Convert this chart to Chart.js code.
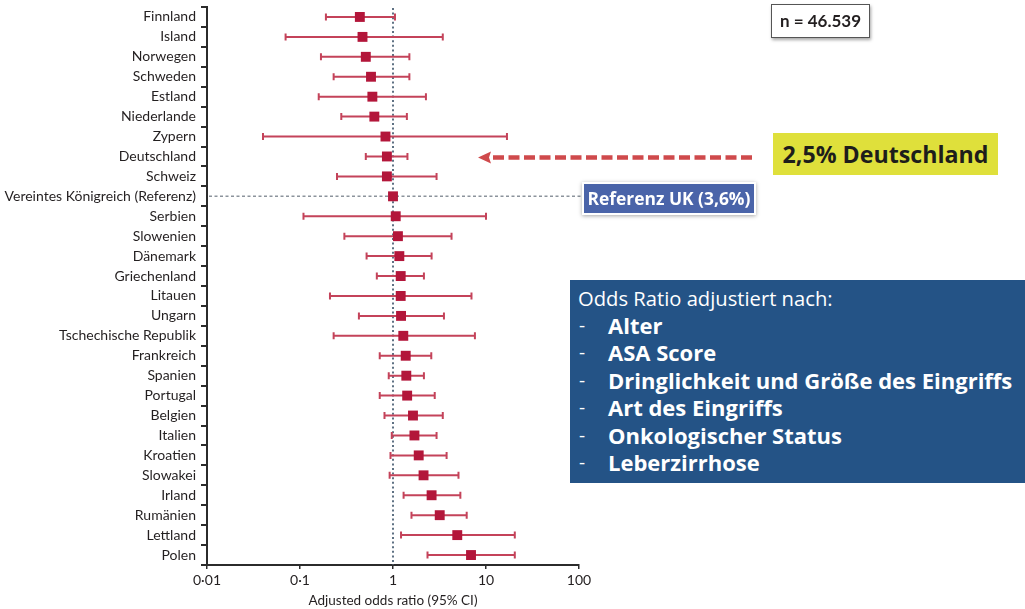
<!DOCTYPE html>
<html lang="de">
<head>
<meta charset="utf-8">
<title>Odds Ratio nach Land</title>
<script src="https://cdn.jsdelivr.net/npm/chart.js@4.4.1/dist/chart.umd.min.js"></script>
<style>
  html, body { margin: 0; padding: 0; background: #ffffff; }
  #wrap { position: relative; width: 1025px; height: 609px; overflow: hidden; }
  #chart { position: absolute; left: 0; top: 0; }
  .note { position: absolute; box-sizing: border-box; font-family: "Open Sans", Lato, sans-serif; white-space: nowrap; }
  #nBox { left: 771px; top: 4px; width: 99px; height: 34px; background: #fff; border: 1.5px solid #555;
          box-shadow: 1px 2px 3px rgba(0,0,0,0.35); font-family: Lato, sans-serif; font-weight: 700;
          font-size: 17px; color: #231f20; line-height: 31px; text-align: center; }
  #deBox { left: 773px; top: 133px; width: 225px; height: 42px; background: #dfe03b; font-weight: 700;
           font-size: 23.2px; color: #1d1d1b; line-height: 42px; text-align: center; }
  #ukBox { left: 582px; top: 182px; width: 174px; height: 33px; background: #4a64a9; border: 2px solid #fff;
           box-shadow: 0 1px 4px rgba(0,0,0,0.35); font-weight: 700; font-size: 17.4px; color: #fff;
           line-height: 29px; text-align: center; }
  #adjBox { left: 570px; top: 280px; width: 455px; height: 203px; background: #245386; color: #fff;
            padding: 5px 0 0 8px; }
  #adjBox .head { font-size: 20.2px; font-weight: 400; line-height: 26.5px; }
  #adjBox ul { list-style: none; margin: 0; padding: 0; }
  #adjBox li { font-size: 22px; font-weight: 700; line-height: 27.6px; position: relative; padding-left: 30px; }
  #adjBox li::before { content: "-"; position: absolute; left: 1px; font-weight: 400; font-size: 19px; }
</style>
</head>
<body>
<div id="wrap">
  <canvas id="chart" width="1025" height="609"></canvas>
  <div class="note" id="nBox">n = 46.539</div>
  <div class="note" id="deBox">2,5% Deutschland</div>
  <div class="note" id="ukBox">Referenz UK (3,6%)</div>
  <div class="note" id="adjBox">
    <div class="head">Odds Ratio adjustiert nach:</div>
    <ul id="adjList"></ul>
  </div>
</div>
<script>
// Countries, top to bottom
const countries = [
  "Finnland", "Island", "Norwegen", "Schweden", "Estland", "Niederlande", "Zypern",
  "Deutschland", "Schweiz", "Vereintes Königreich (Referenz)", "Serbien", "Slowenien",
  "Dänemark", "Griechenland", "Litauen", "Ungarn", "Tschechische Republik", "Frankreich",
  "Spanien", "Portugal", "Belgien", "Italien", "Kroatien", "Slowakei", "Irland",
  "Rumänien", "Lettland", "Polen"
];

// Adjusted odds ratios and 95% confidence limits (UK is the reference, no interval)
const oddsRatio = [0.44, 0.47, 0.51, 0.58, 0.60, 0.63, 0.83, 0.86, 0.86, 1.0, 1.07, 1.13,
  1.17, 1.21, 1.21, 1.22, 1.29, 1.37, 1.39, 1.42, 1.64, 1.70, 1.89, 2.13, 2.6, 3.18, 4.91, 6.9];
const ciLower = [0.19, 0.070, 0.168, 0.23, 0.159, 0.278, 0.040, 0.51, 0.25, null, 0.109, 0.30,
  0.52, 0.67, 0.21, 0.43, 0.23, 0.72, 0.90, 0.72, 0.81, 0.97, 0.94, 0.92, 1.30, 1.58, 1.22, 2.35];
const ciUpper = [1.05, 3.43, 1.50, 1.50, 2.26, 1.41, 16.8, 1.43, 2.94, null, 10.0, 4.26,
  2.6, 2.15, 6.98, 3.53, 7.6, 2.58, 2.15, 2.81, 3.43, 2.94, 3.77, 5.06, 5.3, 6.2, 20.4, 20.4];

// x-axis ticks and their printed labels
const tickValues = [0.01, 0.1, 1, 10, 100];
const tickLabels = ["0·01", "0·1", "1", "10", "100"];

const referenceName = "Vereintes Königreich (Referenz)";
const highlightName = "Deutschland";
const adjustedFor = ["Alter", "ASA Score", "Dringlichkeit und Größe des Eingriffs",
  "Art des Eingriffs", "Onkologischer Status", "Leberzirrhose"];

document.getElementById("adjList").innerHTML =
  adjustedFor.map(t => "<li>" + t + "</li>").join("");

const ciColor = "#c4435a";
const markerColor = "#b3163a";

// Reference lines and confidence intervals, drawn under the markers
const referenceLines = {
  id: "referenceLines",
  beforeDatasetsDraw(chart) {
    const { ctx, chartArea, scales } = chart;
    const x1 = scales.x.getPixelForValue(1);
    const yRef = scales.y.getPixelForValue(countries.indexOf(referenceName));
    ctx.save();
    ctx.lineCap = "butt";
    ctx.strokeStyle = "#8c939c";
    ctx.lineWidth = 1.5;
    ctx.setLineDash([3, 2.5]);
    ctx.beginPath();
    ctx.moveTo(chartArea.left + 2, yRef);
    ctx.lineTo(584, yRef);
    ctx.stroke();
    ctx.strokeStyle = "#5e7183";
    ctx.lineWidth = 2;
    ctx.setLineDash([2, 2.6]);
    ctx.beginPath();
    ctx.moveTo(x1, chartArea.top + 1);
    ctx.lineTo(x1, chartArea.bottom);
    ctx.stroke();
    ctx.restore();

    // confidence intervals with end caps
    ctx.save();
    ctx.strokeStyle = ciColor;
    ctx.lineWidth = 2;
    countries.forEach((c, i) => {
      if (ciLower[i] == null || ciUpper[i] == null) return;
      const y = scales.y.getPixelForValue(i);
      const xl = scales.x.getPixelForValue(ciLower[i]);
      const xh = scales.x.getPixelForValue(ciUpper[i]);
      ctx.beginPath();
      ctx.moveTo(xl, y); ctx.lineTo(xh, y);
      ctx.moveTo(xl, y - 3.5); ctx.lineTo(xl, y + 3.5);
      ctx.moveTo(xh, y - 3.5); ctx.lineTo(xh, y + 3.5);
      ctx.stroke();
    });
    ctx.restore();
  },
  afterDraw(chart) {
    // dashed arrow pointing at the highlighted country
    const { ctx, scales } = chart;
    const y = scales.y.getPixelForValue(countries.indexOf(highlightName)) + 1;
    const tip = 478, headLen = 11, end = 752;
    ctx.save();
    ctx.strokeStyle = "#cf4a4c";
    ctx.fillStyle = "#cf4a4c";
    ctx.lineWidth = 4.5;
    ctx.setLineDash([11, 4.5]);
    ctx.beginPath();
    ctx.moveTo(end, y);
    ctx.lineTo(tip + headLen - 1, y);
    ctx.stroke();
    ctx.setLineDash([]);
    ctx.beginPath();
    ctx.moveTo(tip, y);
    ctx.lineTo(tip + headLen + 2, y - 6);
    ctx.lineTo(tip + headLen, y);
    ctx.lineTo(tip + headLen + 2, y + 6);
    ctx.closePath();
    ctx.fill();
    ctx.restore();
  }
};

new Chart(document.getElementById("chart"), {
  type: "scatter",
  data: {
    datasets: [{
      data: countries.map((c, i) => ({ x: oddsRatio[i], y: c })),
      pointStyle: "rect",
      pointRadius: 7,
      pointHoverRadius: 7,
      backgroundColor: markerColor,
      borderColor: markerColor,
      borderWidth: 0
    }]
  },
  plugins: [referenceLines],
  options: {
    responsive: false,
    animation: false,
    events: [],
    layout: { padding: { top: 7, right: 446, bottom: 0, left: 0 } },
    plugins: { legend: { display: false }, tooltip: { enabled: false } },
    scales: {
      x: {
        type: "logarithmic",
        min: 0.01,
        max: 100,
        afterBuildTicks(scale) { scale.ticks = tickValues.map(v => ({ value: v })); },
        afterFit(scale) { scale.height = 44; },
        border: { display: true, color: "#2b2b2b", width: 2 },
        grid: { drawOnChartArea: false, drawTicks: true, tickLength: 4, color: "#2b2b2b", lineWidth: 1.5 },
        ticks: {
          autoSkip: false,
          maxRotation: 0,
          padding: 3,
          color: "#231f20",
          font: { family: "Lato", size: 14 },
          callback(value) {
            const k = tickValues.indexOf(value);
            return k >= 0 ? tickLabels[k] : "";
          }
        },
        title: {
          display: true,
          text: "Adjusted odds ratio (95% CI)",
          color: "#231f20",
          font: { family: "Lato", size: 13.5 },
          padding: { top: 0, bottom: 0 }
        }
      },
      y: {
        type: "category",
        labels: countries,
        offset: true,
        afterFit(scale) {
          scale.width = 207;
          // categories are offset, so the edge labels never overflow the plot area
          scale.paddingTop = 0;
          scale.paddingBottom = 0;
        },
        border: { display: true, color: "#2b2b2b", width: 2 },
        grid: { offset: true, drawOnChartArea: false, drawTicks: true, tickLength: 6, color: "#2b2b2b", lineWidth: 2 },
        ticks: {
          autoSkip: false,
          padding: 5,
          color: "#231f20",
          font: { family: "Lato", size: 14 }
        }
      }
    }
  }
});
</script>
</body>
</html>
